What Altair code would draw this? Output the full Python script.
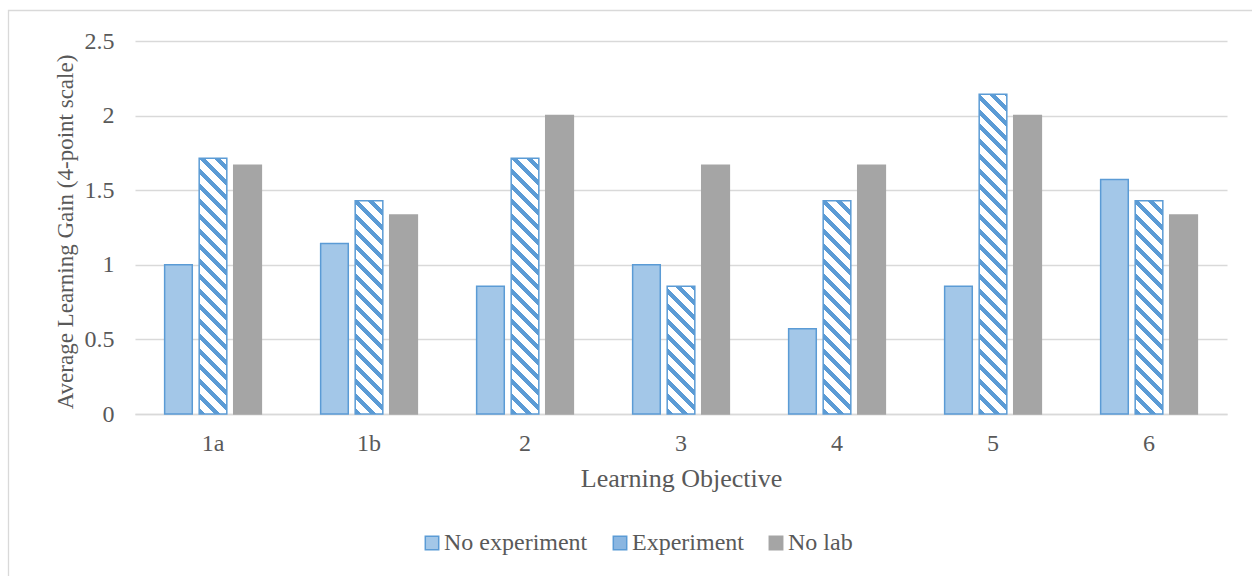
import math

import altair as alt
import pandas as pd

# Learning objectives and the three teaching conditions
objectives = ["1a", "1b", "2", "3", "4", "5", "6"]
series = ["No experiment", "Experiment", "No lab"]

# Average learning gain per objective (4-point scale)
no_experiment = [1.0, 1.143, 0.857, 1.0, 0.571, 0.857, 1.571]
experiment = [1.714, 1.429, 1.714, 0.857, 1.429, 2.143, 1.429]
no_lab = [1.667, 1.333, 2.0, 1.667, 1.667, 2.0, 1.333]

y_ticks = [0, 0.5, 1, 1.5, 2, 2.5]

BLUE = "#5B9BD5"
CHECK = "#A3C7E8"
GREY = "#A5A5A5"
GRID = "#D9D9D9"
TEXT = "#595959"
FONT = "Liberation Serif"

PLOT_W, PLOT_H = 1092, 373
Y_MAX = 2.5
X_PAD_INNER, X_PAD_OUTER = 0.38, 0.19
OFF_PAD_INNER = 0.2

rows = []
for name, vals in zip(series, [no_experiment, experiment, no_lab]):
    for obj, v in zip(objectives, vals):
        rows.append({"objective": obj, "series": name, "gain": v})
df = pd.DataFrame(rows)

x_enc = alt.X(
    "objective:N",
    scale=alt.Scale(domain=objectives, paddingInner=X_PAD_INNER, paddingOuter=X_PAD_OUTER),
    axis=alt.Axis(
        title="Learning Objective",
        labelAngle=0,
        ticks=False,
        domain=True,
        domainColor=GRID,
        domainWidth=1.5,
        grid=False,
        labelFont=FONT,
        labelFontSize=24,
        labelColor=TEXT,
        labelBaseline="alphabetic",
        labelPadding=36,
        titleFont=FONT,
        titleFontSize=26,
        titleFontWeight="normal",
        titleColor=TEXT,
        titleBaseline="alphabetic",
        titleY=72,
    ),
)
xoff_enc = alt.XOffset("series:N", scale=alt.Scale(domain=series, paddingInner=OFF_PAD_INNER, paddingOuter=0))
y_enc = alt.Y(
    "gain:Q",
    scale=alt.Scale(domain=[0, Y_MAX], nice=False),
    axis=alt.Axis(
        values=y_ticks,
        format="~g",
        grid=True,
        gridColor=GRID,
        gridWidth=1.3,
        domain=False,
        ticks=False,
        labelFont=FONT,
        labelFontSize=24,
        labelColor=TEXT,
        labelPadding=21,
        labelBaseline="middle",
        title="Average Learning Gain (4-point scale)",
        titleFont=FONT,
        titleFontSize=23,
        titleFontWeight="normal",
        titleColor=TEXT,
        titleAngle=270,
        titleX=-70,
        titleY=PLOT_H / 2 + 4,
        titleAlign="center",
        titleBaseline="middle",
    ),
)

legend = alt.Legend(
    title=None,
    orient="none",
    legendX=285,
    legendY=490,
    direction="horizontal",
    labelFont=FONT,
    labelFontSize=24,
    labelColor=TEXT,
    symbolType="square",
    symbolSize=180,
    symbolStrokeWidth=1.5,
    columnPadding=20,
    labelOffset=0,
    padding=0,
)

fill_enc = alt.Fill(
    "series:N",
    scale=alt.Scale(domain=series, range=[CHECK, "#8AB6E1", GREY]),
    legend=legend,
)
stroke_enc = alt.Stroke(
    "series:N",
    scale=alt.Scale(domain=series, range=[BLUE, BLUE, GREY]),
    legend=legend,
)

# Solid and checker-toned bars (the hatched series is drawn separately on top)
base = alt.Chart(df[df["series"] != "Experiment"]).mark_bar(strokeWidth=1.5).encode(
    x=x_enc, xOffset=xoff_enc, y=y_enc, fill=fill_enc, stroke=stroke_enc
)

# Keep a legend entry for every series
legend_layer = alt.Chart(df[df["series"] == "Experiment"]).mark_bar(strokeWidth=1.5, opacity=0).encode(
    x=x_enc, xOffset=xoff_enc, y=y_enc, fill=fill_enc, stroke=stroke_enc
)

# Bar geometry used to lay diagonal hatching inside each bar's bounding box
step = PLOT_W / (len(objectives) - X_PAD_INNER + 2 * X_PAD_OUTER)
band = step * (1 - X_PAD_INNER)
bar_w = band / (len(series) - OFF_PAD_INNER) * (1 - OFF_PAD_INNER)


def hatch(w, h, period=10.6, ink=0.4):
    """Linear gradient that renders as '\\' stripes at 45 degrees in pixel space."""
    length = (w + h) / math.sqrt(2)
    k = (w + h) / (w * w + h * h)
    stops = []
    n = int(math.ceil(length / period))
    for i in range(n):
        a = i * period / length
        b = min((i + ink) * period / length, 1.0)
        c = min((i + 1) * period / length, 1.0)
        stops += [
            alt.GradientStop(offset=a, color=BLUE),
            alt.GradientStop(offset=b, color=BLUE),
            alt.GradientStop(offset=b, color="white"),
            alt.GradientStop(offset=c, color="white"),
        ]
    return alt.LinearGradient(gradient="linear", stops=stops, x1=0, y1=1, x2=k * w, y2=1 - k * h)


hatched = []
for obj, v in zip(objectives, experiment):
    sub = df[(df["series"] == "Experiment") & (df["objective"] == obj)]
    h = v / Y_MAX * PLOT_H
    hatched.append(
        alt.Chart(sub).mark_bar(fill=hatch(bar_w, h), stroke=BLUE, strokeWidth=1.5).encode(
            x=x_enc, xOffset=xoff_enc, y=y_enc
        )
    )

# Light outer frame of the chart
frame = alt.Chart(pd.DataFrame({"f": [0]})).mark_rect(
    fill="transparent", stroke=GRID, strokeWidth=1.3
).encode(
    x=alt.value(-126.5), x2=alt.value(PLOT_W + 200), y=alt.value(-30.5), y2=alt.value(PLOT_H + 300)
)

chart = alt.layer(frame, base, legend_layer, *hatched).properties(
    width=PLOT_W,
    height=PLOT_H,
    padding={"left": 135, "top": 41, "right": 25, "bottom": 162},
    autosize=alt.AutoSizeParams(type="none"),
    background="white",
).configure_view(stroke=None)

chart.save("out.html", embed_options={"renderer": "svg", "actions": False})
